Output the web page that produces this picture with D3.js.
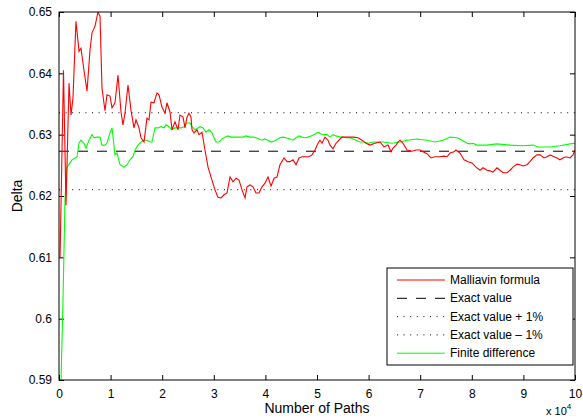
<!DOCTYPE html>
<html>
<head>
<meta charset="utf-8">
<script src="https://cdn.jsdelivr.net/npm/d3@7"></script>
<style>
  html, body { margin: 0; padding: 0; background: #fff; }
  svg { display: block; }
  text { font-family: "Liberation Sans", Arial, Helvetica, sans-serif; fill: #000; }
</style>
</head>
<body>
<svg id="chart" width="583" height="419"></svg>
<script>
// Number of paths in units of 10^4
const malliavinX = [0.02,0.087,0.136,0.194,0.233,0.271,0.329,0.388,0.426,0.484,0.543,0.601,0.640,0.698,0.756,0.795,0.833,0.891,0.930,0.988,
  1.027,1.085,1.143,1.202,1.240,1.279,1.337,1.395,1.453,1.492,1.550,1.589,1.647,1.705,1.744,1.783,1.841,1.899,1.938,1.996,
  2.054,2.093,2.151,2.190,2.248,2.306,2.345,2.403,2.442,2.481,2.519,2.558,2.578,2.616,2.674,2.713,2.771,2.829,2.888,2.965,
  3.023,3.081,3.140,3.198,3.256,3.314,3.372,3.430,3.488,3.547,3.605,3.643,3.702,3.760,3.818,3.876,3.934,3.992,
  4.050,4.109,4.167,4.225,4.283,4.360,4.419,4.477,4.535,4.593,4.651,4.709,4.787,4.845,4.903,4.961,
  5.019,5.058,5.097,5.155,5.213,5.252,5.310,5.368,5.426,5.484,5.562,5.640,5.717,5.795,5.872,5.950,
  6.027,6.124,6.221,6.298,6.376,6.434,6.473,6.531,6.570,6.609,6.667,6.744,6.841,6.919,6.996,
  7.054,7.132,7.209,7.287,7.384,7.461,7.519,7.578,7.655,7.694,7.771,7.849,7.926,
  8.004,8.081,8.159,8.217,8.295,8.353,8.411,8.488,8.547,8.605,8.682,8.740,8.798,8.876,8.934,8.992,
  9.070,9.128,9.186,9.264,9.322,9.399,9.457,9.516,9.593,9.651,9.709,9.767,9.826,9.903,9.961,10.0];
const malliavinDelta = [0.6099,0.6405,0.6185,0.6384,0.6332,0.6360,0.6485,0.6436,0.6441,0.6405,0.6371,0.6438,0.6466,0.6477,0.6500,0.6493,0.6376,0.6339,0.6365,0.6363,
  0.6344,0.6352,0.6397,0.6337,0.6316,0.6335,0.6381,0.6340,0.6311,0.6324,0.6311,0.6295,0.6288,0.6327,0.6324,0.6353,0.6352,0.6368,0.6365,0.6345,
  0.6335,0.6352,0.6337,0.6308,0.6321,0.6308,0.6332,0.6329,0.6311,0.6329,0.6335,0.6329,0.6308,0.6303,0.6308,0.6300,0.6304,0.6275,0.6247,0.6226,
  0.6210,0.6198,0.6197,0.6202,0.6205,0.6231,0.6223,0.6229,0.6226,0.6210,0.6197,0.6215,0.6218,0.6215,0.6205,0.6205,0.6215,0.6221,
  0.6231,0.6216,0.6229,0.6231,0.6251,0.6262,0.6256,0.6256,0.6259,0.6251,0.6262,0.6264,0.6264,0.6264,0.6267,0.6275,
  0.6286,0.6291,0.6286,0.6296,0.6291,0.6283,0.6277,0.6286,0.6291,0.6296,0.6296,0.6296,0.6296,0.6295,0.6291,0.6286,
  0.6283,0.6286,0.6288,0.6280,0.6283,0.6272,0.6278,0.6283,0.6288,0.6291,0.6286,0.6275,0.6273,0.6275,0.6275,
  0.6272,0.6269,0.6262,0.6264,0.6264,0.6265,0.6264,0.6270,0.6272,0.6275,0.6270,0.6259,0.6256,
  0.6254,0.6247,0.6242,0.6246,0.6242,0.6241,0.6239,0.6246,0.6242,0.6238,0.6238,0.6242,0.6247,0.6252,0.6251,0.6249,
  0.6251,0.6256,0.6262,0.6267,0.6267,0.6262,0.6264,0.6267,0.6264,0.6262,0.6259,0.6262,0.6264,0.6262,0.6267,0.6275];

const finiteX = [0.039,0.078,0.116,0.155,0.213,0.252,0.310,0.349,0.388,0.426,0.484,0.523,0.581,0.640,0.678,0.736,0.795,0.833,0.891,0.930,0.988,
  1.027,1.085,1.124,1.182,1.260,1.318,1.376,1.434,1.473,1.531,1.589,1.647,1.705,1.764,1.802,1.860,1.919,1.977,
  2.035,2.074,2.132,2.190,2.248,2.306,2.364,2.422,2.481,2.539,2.578,2.636,2.694,2.733,2.791,2.849,2.907,2.965,
  3.004,3.043,3.101,3.159,3.217,3.275,3.333,3.391,3.450,3.508,3.566,3.624,3.702,3.760,3.818,3.876,3.934,3.992,
  4.050,4.109,4.186,4.283,4.341,4.399,4.477,4.535,4.593,4.651,4.709,4.767,4.826,4.884,4.942,
  5.019,5.078,5.136,5.194,5.252,5.310,5.368,5.446,5.504,5.562,5.640,5.698,5.756,5.833,5.911,5.988,
  6.105,6.279,6.453,6.609,6.744,6.938,7.132,7.287,7.442,7.578,7.713,7.810,7.907,7.965,
  8.023,8.101,8.295,8.488,8.740,8.992,9.186,9.283,9.516,9.709,9.903,10.0];
const finiteDelta = [0.5900,0.6031,0.6194,0.6247,0.6254,0.6259,0.6262,0.6264,0.6286,0.6291,0.6286,0.6278,0.6291,0.6300,0.6295,0.6296,0.6296,0.6283,0.6283,0.6286,0.6303,
  0.6311,0.6267,0.6270,0.6251,0.6247,0.6251,0.6259,0.6264,0.6275,0.6283,0.6288,0.6291,0.6291,0.6288,0.6288,0.6311,0.6311,0.6313,
  0.6311,0.6316,0.6313,0.6308,0.6311,0.6311,0.6311,0.6313,0.6319,0.6319,0.6313,0.6308,0.6311,0.6313,0.6311,0.6304,0.6308,0.6303,
  0.6295,0.6288,0.6288,0.6293,0.6296,0.6298,0.6296,0.6296,0.6296,0.6296,0.6296,0.6298,0.6296,0.6296,0.6295,0.6293,0.6291,0.6293,
  0.6291,0.6288,0.6290,0.6295,0.6296,0.6295,0.6293,0.6291,0.6295,0.6298,0.6296,0.6295,0.6296,0.6298,0.6300,
  0.6304,0.6301,0.6300,0.6300,0.6296,0.6300,0.6298,0.6296,0.6296,0.6295,0.6295,0.6293,0.6291,0.6288,0.6288,0.6286,
  0.6288,0.6288,0.6286,0.6288,0.6291,0.6293,0.6291,0.6288,0.6291,0.6296,0.6295,0.6291,0.6286,0.6285,
  0.6286,0.6283,0.6283,0.6285,0.6283,0.6282,0.6283,0.6280,0.6280,0.6282,0.6285,0.6286];

const exactValue = 0.6273;
const exactPlus = exactValue * 1.01;
const exactMinus = exactValue * 0.99;

const xTicks = [0,1,2,3,4,5,6,7,8,9,10];
const yTicks = [0.59,0.60,0.61,0.62,0.63,0.64,0.65];
const legendLabels = ["Malliavin formula","Exact value","Exact value + 1%","Exact value \u2013 1%","Finite difference"];

const margin = {left: 59, top: 12, right: 8, bottom: 39};
const W = 583, H = 419;
const iw = W - margin.left - margin.right, ih = H - margin.top - margin.bottom;

const svg = d3.select("#chart");
const g = svg.append("g").attr("transform", `translate(${margin.left},${margin.top})`);

const x = d3.scaleLinear().domain([0,10]).range([0, iw]);
const y = d3.scaleLinear().domain([0.59,0.65]).range([ih, 0]);

g.append("defs").append("clipPath").attr("id","clip")
  .append("rect").attr("width", iw).attr("height", ih);

const fmtY = d => d3.format(".2f")(d).replace(/0$/, "").replace(/\.$/, "");

// axes (ticks inward, box)
const axisStyle = sel => {
  sel.select(".domain").remove();
  sel.selectAll(".tick line").attr("stroke","#000");
  sel.selectAll(".tick text").style("font-size","12px");
};
g.append("g").attr("transform",`translate(0,${ih})`)
  .call(d3.axisBottom(x).tickValues(xTicks).tickSize(-5).tickPadding(9).tickFormat(d3.format("d")))
  .call(axisStyle);
g.append("g")
  .call(d3.axisTop(x).tickValues(xTicks).tickSize(-5).tickFormat(""))
  .call(axisStyle);
g.append("g")
  .call(d3.axisLeft(y).tickValues(yTicks).tickSize(-5).tickPadding(7).tickFormat(fmtY))
  .call(axisStyle);
g.append("g").attr("transform",`translate(${iw},0)`)
  .call(d3.axisRight(y).tickValues(yTicks).tickSize(-5).tickFormat(""))
  .call(axisStyle);

const plot = g.append("g").attr("clip-path","url(#clip)");

// reference lines
const refLine = (val, dash) => plot.append("line")
  .attr("x1", x(0)).attr("x2", x(10)).attr("y1", y(val)).attr("y2", y(val))
  .attr("stroke","#000").attr("stroke-width",1).attr("stroke-dasharray", dash);
refLine(exactPlus, "1,5.6");
refLine(exactMinus, "1,5.6");
refLine(exactValue, "10,9");

const line = d3.line().x(d => x(d[0])).y(d => y(d[1]));
const malData = malliavinX.map((v,i) => [v, malliavinDelta[i]]);
const finData = finiteX.map((v,i) => [v, finiteDelta[i]]);

plot.append("path").datum(finData).attr("d", line)
  .attr("fill","none").attr("stroke","#00ff00").attr("stroke-width",1.1);
plot.append("path").datum(malData).attr("d", line)
  .attr("fill","none").attr("stroke","#ff0000").attr("stroke-width",1.1);

// box
g.append("rect").attr("width", iw).attr("height", ih)
  .attr("fill","none").attr("stroke","#000").attr("stroke-width",1);

// axis labels
svg.append("text").attr("x", margin.left + iw/2).attr("y", 413)
  .attr("text-anchor","middle").style("font-size","14px").text("Number of Paths");
svg.append("text").attr("transform",`translate(22,${margin.top + ih/2}) rotate(-90)`)
  .attr("text-anchor","middle").style("font-size","14px").text("Delta");
const ex = svg.append("text").attr("x", 546).attr("y", 415).style("font-size","11px");
ex.append("tspan").text("x 10");
ex.append("tspan").attr("dy",-6).style("font-size","8px").text("4");

// legend
const lg = svg.append("g").attr("transform","translate(387,268)");
lg.append("rect").attr("width",186).attr("height",97).attr("fill","#fff").attr("stroke","#000").attr("stroke-width",1);
const legendStyles = [
  {stroke:"#ff0000", dash:null},
  {stroke:"#000", dash:"10,9"},
  {stroke:"#000", dash:"1,5.6"},
  {stroke:"#000", dash:"1,5.6"},
  {stroke:"#00ff00", dash:null}
];
legendLabels.forEach((lab, i) => {
  const cy = 12 + i*18.3;
  lg.append("line").attr("x1",10).attr("x2",58).attr("y1",cy).attr("y2",cy)
    .attr("stroke", legendStyles[i].stroke).attr("stroke-width",1)
    .attr("stroke-dasharray", legendStyles[i].dash);
  lg.append("text").attr("x",63).attr("y",cy+4).style("font-size","12px").text(lab);
});
</script>
</body>
</html>
